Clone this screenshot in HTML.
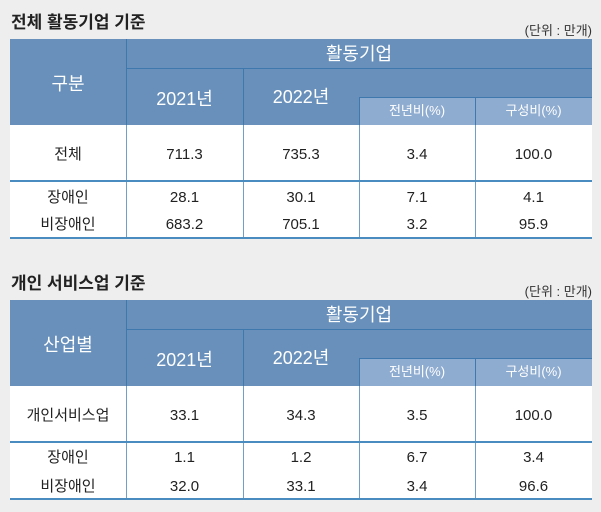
<!DOCTYPE html>
<html><head><meta charset="utf-8"><style>
body{margin:0;width:601px;height:512px;background:#eeeeee;position:relative;overflow:hidden;font-family:"Liberation Sans","Noto Sans CJK KR",sans-serif}
div{position:absolute;box-sizing:border-box}
.t{font-size:17px;font-weight:bold;color:#222;left:11px}
.u{font-size:13px;color:#333;right:9px}
.h{background:#6890bb}
.s{background:#8eabd0}
.vl{width:1px;background:#3f78ad}
.hl{height:1px;background:#3f78ad}
.bl{height:2px;background:#4b8cc0}
.c{text-align:center;color:#fff;line-height:20px}
.d{text-align:center;color:#222;font-size:15px;line-height:20px}
</style></head><body>

<div class="t" style="top:8px">전체 활동기업 기준</div>
<div class="u" style="top:20px">(단위 : 만개)</div>
<div class="h" style="left:10px;top:39px;width:582px;height:86px"></div>
<div class="s" style="left:359px;top:97px;width:233px;height:28px"></div>
<div class="vl" style="left:126px;top:39px;height:199px"></div>
<div class="vl" style="left:243px;top:69px;height:169px"></div>
<div class="vl" style="left:359px;top:97px;height:141px"></div>
<div class="vl" style="left:475px;top:97px;height:141px"></div>
<div class="hl" style="left:126px;top:68px;width:466px"></div>
<div class="hl" style="left:359px;top:97px;width:233px"></div>
<div style="left:10px;top:125px;width:582px;height:113px;background:#fff;z-index:-1"></div>
<div class="vl" style="left:126px;top:125px;height:113px;background:#6ea0cc"></div>
<div class="vl" style="left:243px;top:125px;height:113px;background:#6ea0cc"></div>
<div class="vl" style="left:359px;top:125px;height:113px;background:#6ea0cc"></div>
<div class="vl" style="left:475px;top:125px;height:113px;background:#6ea0cc"></div>
<div class="bl" style="left:10px;top:180px;width:582px"></div>
<div class="bl" style="left:10px;top:237px;width:582px"></div>
<div class="c" style="left:10px;top:74px;width:116px;font-size:18px">구분</div>
<div class="c" style="left:126px;top:44px;width:466px;font-size:18px">활동기업</div>
<div class="c" style="left:126px;top:89px;width:117px;font-size:18px">2021년</div>
<div class="c" style="left:243px;top:87px;width:116px;font-size:18px">2022년</div>
<div class="c" style="left:359px;top:101px;width:116px;font-size:13px">전년비(%)</div>
<div class="c" style="left:475px;top:101px;width:117px;font-size:13px">구성비(%)</div>
<div class="d" style="left:10px;top:145px;width:116px">전체</div>
<div class="d" style="left:126px;top:145px;width:117px">711.3</div>
<div class="d" style="left:243px;top:145px;width:116px">735.3</div>
<div class="d" style="left:359px;top:145px;width:116px">3.4</div>
<div class="d" style="left:475px;top:145px;width:117px">100.0</div>
<div class="d" style="left:10px;top:188px;width:116px">장애인</div>
<div class="d" style="left:126px;top:188px;width:117px">28.1</div>
<div class="d" style="left:243px;top:188px;width:116px">30.1</div>
<div class="d" style="left:359px;top:188px;width:116px">7.1</div>
<div class="d" style="left:475px;top:188px;width:117px">4.1</div>
<div class="d" style="left:10px;top:215px;width:116px">비장애인</div>
<div class="d" style="left:126px;top:215px;width:117px">683.2</div>
<div class="d" style="left:243px;top:215px;width:116px">705.1</div>
<div class="d" style="left:359px;top:215px;width:116px">3.2</div>
<div class="d" style="left:475px;top:215px;width:117px">95.9</div>

<div class="t" style="top:269px">개인 서비스업 기준</div>
<div class="u" style="top:281px">(단위 : 만개)</div>
<div class="h" style="left:10px;top:300px;width:582px;height:86px"></div>
<div class="s" style="left:359px;top:358px;width:233px;height:28px"></div>
<div class="vl" style="left:126px;top:300px;height:199px"></div>
<div class="vl" style="left:243px;top:330px;height:169px"></div>
<div class="vl" style="left:359px;top:358px;height:141px"></div>
<div class="vl" style="left:475px;top:358px;height:141px"></div>
<div class="hl" style="left:126px;top:329px;width:466px"></div>
<div class="hl" style="left:359px;top:358px;width:233px"></div>
<div style="left:10px;top:386px;width:582px;height:113px;background:#fff;z-index:-1"></div>
<div class="vl" style="left:126px;top:386px;height:113px;background:#6ea0cc"></div>
<div class="vl" style="left:243px;top:386px;height:113px;background:#6ea0cc"></div>
<div class="vl" style="left:359px;top:386px;height:113px;background:#6ea0cc"></div>
<div class="vl" style="left:475px;top:386px;height:113px;background:#6ea0cc"></div>
<div class="bl" style="left:10px;top:441px;width:582px"></div>
<div class="bl" style="left:10px;top:498px;width:582px"></div>
<div class="c" style="left:10px;top:335px;width:116px;font-size:18px">산업별</div>
<div class="c" style="left:126px;top:305px;width:466px;font-size:18px">활동기업</div>
<div class="c" style="left:126px;top:350px;width:117px;font-size:18px">2021년</div>
<div class="c" style="left:243px;top:348px;width:116px;font-size:18px">2022년</div>
<div class="c" style="left:359px;top:362px;width:116px;font-size:13px">전년비(%)</div>
<div class="c" style="left:475px;top:362px;width:117px;font-size:13px">구성비(%)</div>
<div class="d" style="left:10px;top:406px;width:116px">개인서비스업</div>
<div class="d" style="left:126px;top:406px;width:117px">33.1</div>
<div class="d" style="left:243px;top:406px;width:116px">34.3</div>
<div class="d" style="left:359px;top:406px;width:116px">3.5</div>
<div class="d" style="left:475px;top:406px;width:117px">100.0</div>
<div class="d" style="left:10px;top:448px;width:116px">장애인</div>
<div class="d" style="left:126px;top:448px;width:117px">1.1</div>
<div class="d" style="left:243px;top:448px;width:116px">1.2</div>
<div class="d" style="left:359px;top:448px;width:116px">6.7</div>
<div class="d" style="left:475px;top:448px;width:117px">3.4</div>
<div class="d" style="left:10px;top:477px;width:116px">비장애인</div>
<div class="d" style="left:126px;top:477px;width:117px">32.0</div>
<div class="d" style="left:243px;top:477px;width:116px">33.1</div>
<div class="d" style="left:359px;top:477px;width:116px">3.4</div>
<div class="d" style="left:475px;top:477px;width:117px">96.6</div>
</body></html>
